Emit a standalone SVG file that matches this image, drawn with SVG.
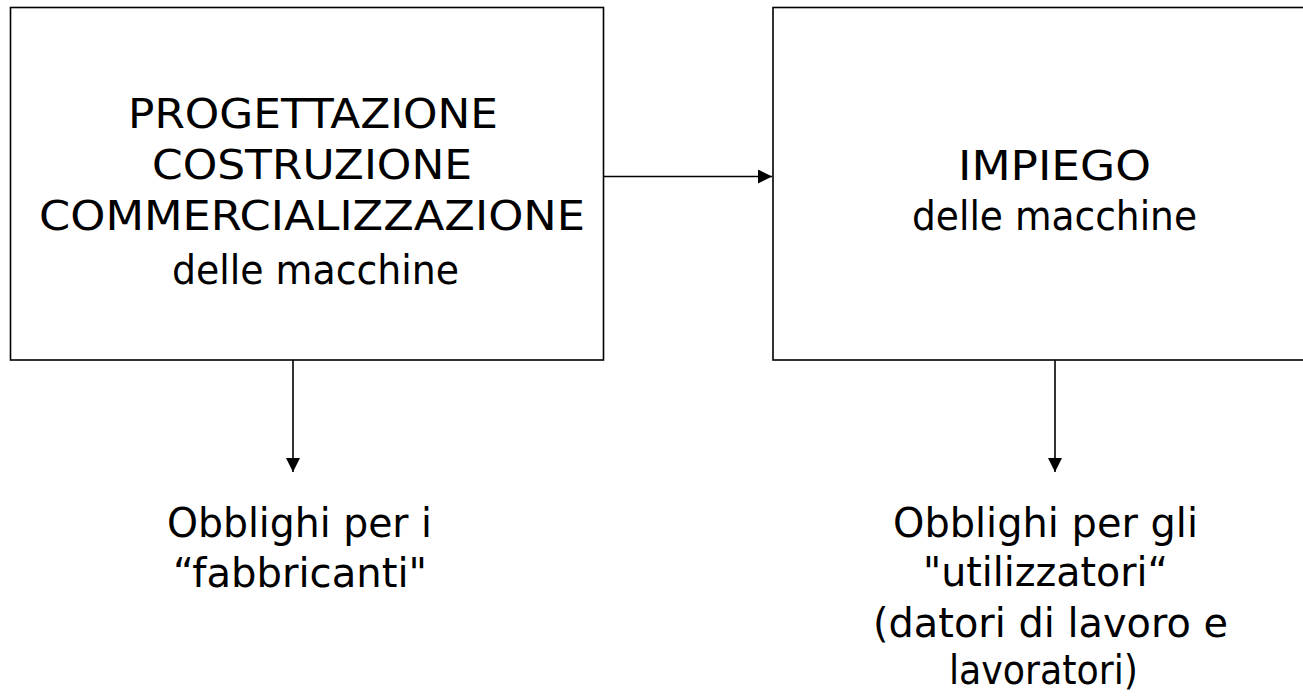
<svg xmlns="http://www.w3.org/2000/svg" width="1303" height="696" viewBox="0 0 1303 696">
<style>
.box{fill:#fff;stroke:#000;stroke-width:1.6}
.t{font-family:"DejaVu Sans","Liberation Sans",sans-serif;font-size:41px;fill:#000}
.c{stroke:#000;stroke-width:1.6;fill:none}
</style>
<defs>
<marker id="ah" markerUnits="userSpaceOnUse" markerWidth="14" markerHeight="14" viewBox="0 0 14 14" refX="14" refY="7" orient="auto">
<path d="M0,0 L14,7 L0,14 Z" fill="#000"/>
</marker>
</defs>
<rect width="1303" height="696" fill="#fff"/>
<g id="node-progettazione">
<rect class="box" x="10.5" y="7.5" width="593" height="352.5"/>
<text class="t" x="128" y="128" textLength="370" lengthAdjust="spacingAndGlyphs">PROGETTAZIONE</text>
<text class="t" x="152" y="179" textLength="320" lengthAdjust="spacingAndGlyphs">COSTRUZIONE</text>
<text class="t" x="39" y="230" textLength="546" lengthAdjust="spacingAndGlyphs">COMMERCIALIZZAZIONE</text>
<text class="t" x="172" y="284" textLength="287" lengthAdjust="spacingAndGlyphs">delle macchine</text>
</g>
<g id="node-impiego">
<rect class="box" x="773" y="7.5" width="545" height="352.5"/>
<text class="t" x="958" y="180" textLength="193" lengthAdjust="spacingAndGlyphs">IMPIEGO</text>
<text class="t" x="912" y="230" textLength="285" lengthAdjust="spacingAndGlyphs">delle macchine</text>
</g>
<g id="node-fabbricanti">
<text class="t" x="167" y="537" textLength="265" lengthAdjust="spacingAndGlyphs">Obblighi per i</text>
<text class="t" x="173" y="587" textLength="254" lengthAdjust="spacingAndGlyphs">“fabbricanti"</text>
</g>
<g id="node-utilizzatori">
<text class="t" x="893" y="537" textLength="305" lengthAdjust="spacingAndGlyphs">Obblighi per gli</text>
<text class="t" x="923" y="586" textLength="245" lengthAdjust="spacingAndGlyphs">"utilizzatori“</text>
<text class="t" x="873" y="637" textLength="355" lengthAdjust="spacingAndGlyphs">(datori di lavoro e</text>
<text class="t" x="949" y="684" textLength="189" lengthAdjust="spacingAndGlyphs">lavoratori)</text>
</g>
<g id="connectors">
<line class="c" x1="604" y1="176.5" x2="772" y2="176.5" marker-end="url(#ah)"/>
<line class="c" x1="293" y1="360" x2="293" y2="472" marker-end="url(#ah)"/>
<line class="c" x1="1055" y1="360" x2="1055" y2="472" marker-end="url(#ah)"/>
</g>
</svg>
